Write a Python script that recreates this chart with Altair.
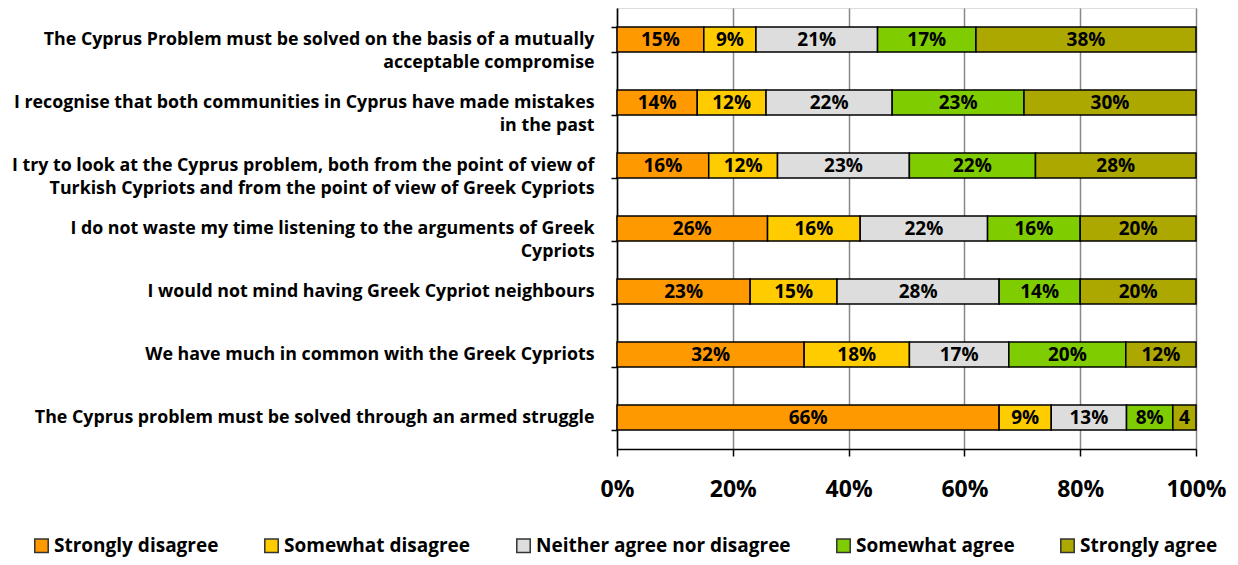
import altair as alt
import pandas as pd

statements = [
    "The Cyprus Problem must be solved on the basis of a mutually|acceptable compromise",
    "I recognise that both communities in Cyprus have made mistakes|in the past",
    "I try to look at the Cyprus problem, both from the point of view of|Turkish Cypriots and from the point of view of Greek Cypriots",
    "I do not waste my time listening to the arguments of Greek|Cypriots",
    "I would not mind having Greek Cypriot neighbours",
    "We have much in common with the Greek Cypriots",
    "The Cyprus problem must be solved through an armed struggle",
]
responses = [
    "Strongly disagree",
    "Somewhat disagree",
    "Neither agree nor disagree",
    "Somewhat agree",
    "Strongly agree",
]
colors = ["#FF9900", "#FFCC00", "#DDDDDD", "#7FCC00", "#ACA800"]

strongly_disagree = [15, 14, 16, 26, 23, 32, 66]
somewhat_disagree = [9, 12, 12, 16, 15, 18, 9]
neither = [21, 22, 23, 22, 28, 17, 13]
somewhat_agree = [17, 23, 22, 16, 14, 20, 8]
strongly_agree = [38, 30, 28, 20, 20, 12, 4]
# text shown in each segment (the last one is cut off in the original)
label_overrides = {(6, 4): "4"}

series = [strongly_disagree, somewhat_disagree, neither, somewhat_agree, strongly_agree]
rows = []
for i, s in enumerate(statements):
    for j, r in enumerate(responses):
        v = series[j][i]
        rows.append({
            "statement": s,
            "response": r,
            "order": j,
            "value": v,
            "label": label_overrides.get((i, j), f"{v}%"),
        })
df = pd.DataFrame(rows)

FONT = "Open Sans"

base = alt.Chart(df).transform_stack(
    stack="value",
    groupby=["statement"],
    as_=["v0", "v1"],
    sort=[alt.SortField("order", order="ascending")],
    offset="normalize",
).transform_calculate(mid="(datum.v0 + datum.v1) / 2")

y_enc = alt.Y(
    "statement:N",
    sort=statements,
    scale=alt.Scale(paddingInner=0.6, paddingOuter=0.3),
    axis=alt.Axis(
        title=None,
        labelExpr="isValid(datum.value) ? split(datum.value, '|') : ''",
        labelFont=FONT,
        labelFontSize=17.8,
        labelFontWeight="bold",
        labelColor="black",
        labelLineHeight=23,
        labelPadding=17,
        labelLimit=1000,
        tickBand="extent",
        tickSize=6,
        tickColor="black",
        tickWidth=1.5,
        domainColor="black",
        domainWidth=1.5,
        grid=False,
    ),
)

bars = base.mark_bar(stroke="black", strokeWidth=1.5).encode(
    x=alt.X(
        "v0:Q",
        scale=alt.Scale(domain=[0, 1], nice=False),
        axis=alt.Axis(
            title=None,
            format=".0%",
            values=[0, 0.2, 0.4, 0.6, 0.8, 1.0],
            labelFont=FONT,
            labelFontSize=23,
            labelFontWeight="bold",
            labelColor="black",
            labelPadding=22,
            labelFlush=False,
            labelOverlap=False,
            tickSize=7,
            tickColor="black",
            tickWidth=1.5,
            domainColor="black",
            domainWidth=1.5,
            grid=True,
            gridColor="#888888",
            gridWidth=1.5,
        ),
    ),
    x2="v1:Q",
    y=y_enc,
    color=alt.Color(
        "response:N",
        scale=alt.Scale(domain=responses, range=colors),
        sort=responses,
        legend=alt.Legend(
            title=None,
            orient="none",
            direction="horizontal",
            legendX=-585,
            legendY=528,
            symbolType="square",
            symbolSize=180,
            symbolStrokeColor="#333333",
            symbolStrokeWidth=1.5,
            symbolOpacity=1,
            labelFont=FONT,
            labelFontSize=19,
            labelFontWeight="bold",
            labelColor="black",
            labelLimit=400,
            columnPadding=42,
            labelOffset=3,
        ),
    ),
)

texts = base.mark_text(
    font=FONT, fontSize=19, fontWeight="bold", color="black", baseline="middle"
).encode(
    x="mid:Q",
    y=alt.Y("statement:N", sort=statements),
    text="label:N",
)

chart = (
    alt.layer(bars, texts)
    .properties(
        width=579,
        height=441,
        autosize=alt.AutoSizeParams(type="none"),
        padding={"left": 609, "top": 0, "right": 34, "bottom": 108},
    )
    .configure_view(stroke="black", strokeWidth=1.5)
    .configure(background="white")
)

chart.save("out.html", embed_options={"renderer": "svg", "actions": False})
